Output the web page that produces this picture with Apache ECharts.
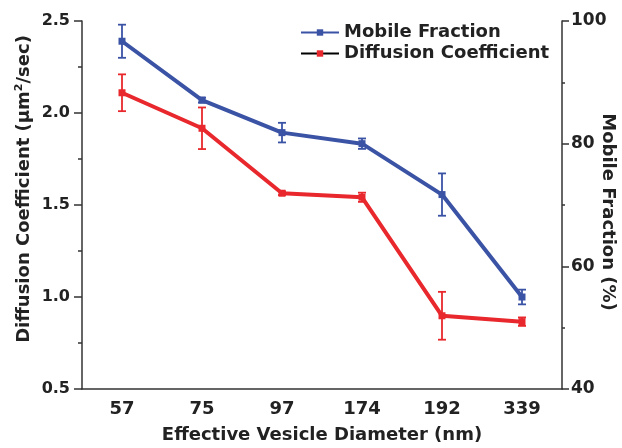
<!DOCTYPE html>
<html>
<head>
<meta charset="utf-8">
<script src="https://cdn.jsdelivr.net/npm/echarts@6/dist/echarts.min.js"></script>
<style>html,body{margin:0;padding:0;background:#fff}#c{width:622px;height:448px}</style>
</head>
<body>
<div id="c"></div>
<script>
const categories = ['57', '75', '97', '174', '192', '339'];
const mobileFraction = [96.7, 87.1, 81.8, 80.0, 71.7, 55.0];
const mobileErr = [2.7, 0.4, 1.6, 0.85, 3.45, 1.2];
const diffCoef = [2.11, 1.917, 1.564, 1.542, 0.898, 0.866];
const diffErr = [0.10, 0.113, 0.01, 0.025, 0.13, 0.023];
const leftTicks = { min: 0.5, max: 2.5, interval: 0.5 };
const rightTicks = { min: 40, max: 100, interval: 20 };

const BLUE = '#3b53a5';
const RED = '#e8282c';
const AX = '#333333';
const TXT = '#222222';
const FONT = '"DejaVu Sans", "Liberation Sans", Arial, sans-serif';

function errData(vals, errs) {
  return vals.map((v, i) => [i, v, v + errs[i], v - errs[i]]);
}
function errRender(color) {
  return function (params, api) {
    const i = api.value(0);
    const hi = api.coord([i, api.value(2)]);
    const lo = api.coord([i, api.value(3)]);
    const w = 4;
    const st = { stroke: color, lineWidth: 1.8 };
    return {
      type: 'group',
      children: [
        { type: 'line', shape: { x1: hi[0], y1: hi[1], x2: lo[0], y2: lo[1] }, style: st },
        { type: 'line', shape: { x1: hi[0] - w, y1: hi[1], x2: hi[0] + w, y2: hi[1] }, style: st },
        { type: 'line', shape: { x1: lo[0] - w, y1: lo[1], x2: lo[0] + w, y2: lo[1] }, style: st }
      ]
    };
  };
}

const chart = echarts.init(document.getElementById('c'), null, { renderer: 'canvas' });
chart.setOption({
  animation: false,
  textStyle: { fontFamily: FONT },
  grid: { left: 82, right: 60, top: 21, bottom: 59, containLabel: false, outerBoundsMode: 'none' },
  legend: {
    orient: 'vertical',
    left: 300,
    top: 22,
    padding: 0,
    itemWidth: 38,
    itemHeight: 8,
    itemGap: 0,
    textStyle: { fontFamily: FONT, fontSize: 18, fontWeight: 'bold', color: TXT, lineHeight: 21 },
    data: [
      { name: 'Mobile Fraction' },
      { name: 'Diffusion Coefficient', lineStyle: { color: '#000', width: 2 } }
    ]
  },
  xAxis: [{
    type: 'category',
    data: categories,
    position: 'bottom',
    boundaryGap: true,
    name: 'Effective Vesicle Diameter (nm)',
    nameLocation: 'middle',
    nameGap: 37,
    nameTextStyle: { fontFamily: FONT, fontSize: 18, fontWeight: 'bold', color: TXT },
    axisLine: { lineStyle: { color: AX, width: 1.5 } },
    axisTick: { alignWithLabel: true, length: 6, lineStyle: { color: AX, width: 1.5 } },
    axisLabel: { margin: 11, fontFamily: FONT, fontSize: 18, fontWeight: 'bold', color: TXT },
    splitLine: { show: false }
  }, {
    type: 'category',
    data: categories,
    position: 'bottom',
    boundaryGap: true,
    axisLine: { show: false },
    axisTick: { alignWithLabel: false, length: 3, lineStyle: { color: AX, width: 1.5 } },
    axisLabel: { show: false },
    splitLine: { show: false }
  }],
  yAxis: [{
    type: 'value',
    position: 'left',
    min: leftTicks.min, max: leftTicks.max, interval: leftTicks.interval,
    name: 'Diffusion Coefficient (μm{sup|2}/sec)',
    nameLocation: 'middle',
    nameRotate: 90,
    nameGap: 48,
    nameMoveOverlap: false,
    nameTextStyle: {
      fontFamily: FONT, fontSize: 18, fontWeight: 'bold', color: TXT,
      padding: [0, 0, 0, 32],
      rich: { sup: { fontFamily: FONT, fontSize: 11, fontWeight: 'bold', color: TXT, verticalAlign: 'bottom', padding: [0, 0, 9, 0] } }
    },
    axisLine: { show: true, lineStyle: { color: AX, width: 1.5 } },
    axisTick: { show: true, length: 8, lineStyle: { color: AX, width: 1.5 } },
    minorTick: { show: true, splitNumber: 2, length: 4, lineStyle: { color: AX, width: 1.5 } },
    axisLabel: { margin: 12, fontFamily: FONT, fontSize: 16, fontWeight: 'bold', color: TXT, formatter: v => v.toFixed(1) },
    splitLine: { show: false }
  }, {
    type: 'value',
    position: 'right',
    min: rightTicks.min, max: rightTicks.max, interval: rightTicks.interval,
    name: 'Mobile Fraction (%)',
    nameLocation: 'middle',
    nameRotate: -90,
    nameGap: 37,
    nameMoveOverlap: false,
    nameTextStyle: { fontFamily: FONT, fontSize: 18, fontWeight: 'bold', color: TXT, padding: [0, 0, 0, 14] },
    axisLine: { show: true, lineStyle: { color: AX, width: 1.5 } },
    axisTick: { show: true, length: 7, lineStyle: { color: AX, width: 1.5 } },
    minorTick: { show: true, splitNumber: 2, length: 3, lineStyle: { color: AX, width: 1.5 } },
    axisLabel: { margin: 9, fontFamily: FONT, fontSize: 17, fontWeight: 'bold', color: TXT },
    splitLine: { show: false }
  }],
  series: [{
    name: 'Mobile Fraction',
    type: 'line',
    yAxisIndex: 1,
    data: mobileFraction,
    symbol: 'rect',
    symbolSize: 7,
    lineStyle: { color: BLUE, width: 4 },
    itemStyle: { color: BLUE },
    z: 3
  }, {
    name: 'Diffusion Coefficient',
    type: 'line',
    yAxisIndex: 0,
    data: diffCoef,
    symbol: 'rect',
    symbolSize: 7,
    lineStyle: { color: RED, width: 4 },
    itemStyle: { color: RED },
    z: 3
  }, {
    type: 'custom',
    yAxisIndex: 1,
    data: errData(mobileFraction, mobileErr),
    renderItem: errRender(BLUE),
    encode: { x: 0, y: [1, 2, 3] },
    z: 2,
    silent: true
  }, {
    type: 'custom',
    yAxisIndex: 0,
    data: errData(diffCoef, diffErr),
    renderItem: errRender(RED),
    encode: { x: 0, y: [1, 2, 3] },
    z: 2,
    silent: true
  }]
});
</script>
</body>
</html>
